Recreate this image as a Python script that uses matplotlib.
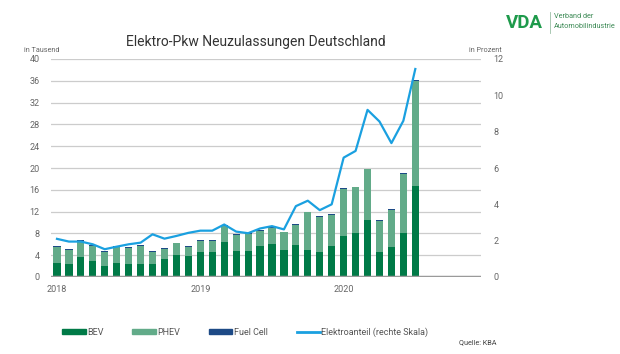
import matplotlib
matplotlib.use("Agg")
import matplotlib.pyplot as plt
import numpy as np
from matplotlib.patches import Patch
from matplotlib.lines import Line2D

plt.rcParams['font.family'] = ['Roboto', 'DejaVu Sans']

# Monthly data Jan 2018 - Jul 2020 (in thousands / percent)
bev_total_tops = [5.6, 5.1, 6.7, 5.8, 4.7, 5.6, 5.5, 5.8, 4.7, 5.3, 6.3, 5.7,
                  6.7, 6.7, 9.5, 7.9, 8.0, 8.6, 9.1, 8.3, 9.7, 12.0, 11.2, 11.5,
                  16.3, 16.6, 19.9, 10.4, 12.5, 19.0, 36.1]
bev = [2.6, 2.4, 3.6, 3.0, 2.1, 2.6, 2.4, 2.3, 2.3, 3.3, 4.1, 3.8,
       4.5, 4.5, 6.4, 4.7, 4.7, 5.6, 6.0, 4.9, 5.8, 4.9, 4.6, 5.6,
       7.5, 8.1, 10.4, 4.6, 5.5, 8.1, 16.7]
fuel_cell = [0.12] * 31
phev = [round(t - b - f, 2) for t, b, f in zip(bev_total_tops, bev, fuel_cell)]
share = [2.1, 1.95, 1.95, 1.8, 1.53, 1.67, 1.8, 1.89, 2.35, 2.11, 2.26, 2.43,
         2.55, 2.55, 2.89, 2.5, 2.41, 2.67, 2.8, 2.62, 3.9, 4.2, 3.68, 4.0,
         6.57, 6.94, 9.2, 8.56, 7.37, 8.6, 11.45]
year_labels = ["2018", "2019", "2020"]
year_pos = [0, 12, 24]
left_ticks = [0, 4, 8, 12, 16, 20, 24, 28, 32, 36, 40]
right_ticks = [0, 2, 4, 6, 8, 10, 12]

c_bev = "#007a47"
c_phev = "#62ab89"
c_fc = "#1d4a86"
c_line = "#1aa0e0"
c_text = "#666666"

fig = plt.figure(figsize=(6.2, 3.54), dpi=100)
ax = fig.add_axes([51/620, 1-277/354, (481-51)/620, (277-59)/354])
x = np.arange(len(bev))
w = 0.6
ax.bar(x, bev, w, color=c_bev, zorder=3)
ax.bar(x, phev, w, bottom=bev, color=c_phev, zorder=3)
ax.bar(x, fuel_cell, w, bottom=np.array(bev) + np.array(phev), color=c_fc, zorder=3)
ax.set_xlim(-0.5, 35.5)
ax.set_ylim(0, 40)
ax.set_yticks(left_ticks)
ax.set_yticklabels([str(v) for v in left_ticks])
ax.grid(axis='y', color="#cccccc", linewidth=0.9, zorder=0)
ax.axhline(0, color="#9a9a9a", linewidth=2.5, zorder=4)
for s in ax.spines.values():
    s.set_visible(False)
ax.set_xticks(year_pos)
ax.set_xticklabels(year_labels)
ax.tick_params(axis='both', length=0, labelsize=6.5, labelcolor=c_text)
ax.tick_params(axis='y', pad=8)
ax.tick_params(axis='x', pad=6)

ax2 = ax.twinx()
ax2.plot(x, share, color=c_line, linewidth=1.6, zorder=5)
ax2.set_ylim(0, 12)
ax2.set_yticks(right_ticks)
ax2.set_yticklabels([str(v) for v in right_ticks])
ax2.tick_params(axis='y', length=0, labelsize=6.5, labelcolor=c_text, pad=9)
for s in ax2.spines.values():
    s.set_visible(False)

fig.text(126/620, 1-42/354, "Elektro-Pkw Neuzulassungen Deutschland", fontsize=10,
         color="#333333", va='center', ha='left')
fig.text(24/620, 1-51/354, "in Tausend", fontsize=5.2, color=c_text, va='center', ha='left')
fig.text(469/620, 1-51/354, "in Prozent", fontsize=5.2, color=c_text, va='center', ha='left')
fig.text(459/620, 1-343/354, "Quelle: KBA", fontsize=5.2, color="#444444", va='center', ha='left')

# VDA logo text
fig.text(506/620, 1-23/354, "VDA", fontsize=13.5, fontweight='bold', color="#1e9a4b",
         va='center', ha='left')
fig.add_artist(Line2D([550/620, 550/620], [1-12/354, 1-33/354], color="#9bbfa6", linewidth=0.6))
fig.text(554/620, 1-17/354, "Verband der", fontsize=5.2, color="#3c8a55", va='center', ha='left')
fig.text(554/620, 1-27/354, "Automobilindustrie", fontsize=5.2, color="#3c8a55", va='center', ha='left')

handles = [Patch(color=c_bev), Patch(color=c_phev), Patch(color=c_fc),
           Line2D([], [], color=c_line, linewidth=2)]
labels = ["BEV", "PHEV", "Fuel Cell", "Elektroanteil (rechte Skala)"]
leg = fig.legend(handles, labels, ncol=4, loc='center left',
                 bbox_to_anchor=(54/620, 1-332/354), frameon=False, fontsize=6.5,
                 handlelength=2.6, handleheight=0.55, handletextpad=0.15,
                 columnspacing=3.2, labelcolor="#555555")

fig.savefig("out.png", dpi=100)
